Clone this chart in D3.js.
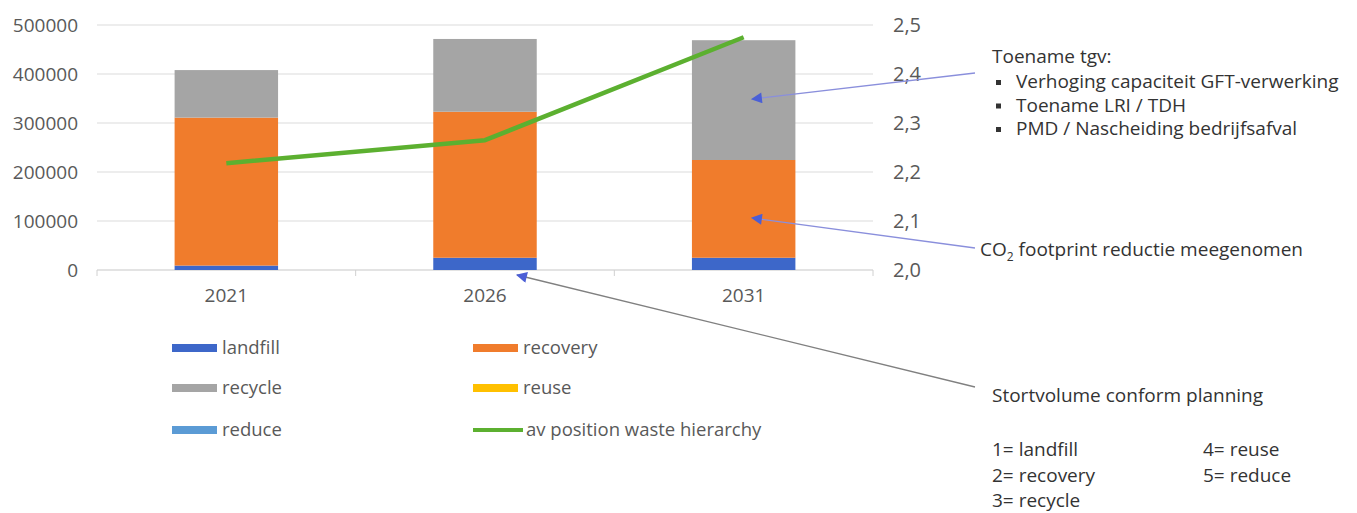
<!DOCTYPE html>
<html>
<head>
<meta charset="utf-8">
<script src="https://cdn.jsdelivr.net/npm/d3@7"></script>
<style>
  body { margin: 0; background: #fff; }
  svg text { font-family: "Open Sans", sans-serif; }
</style>
</head>
<body>
<div id="chart"></div>
<script>
// data
const years = ["2021", "2026", "2031"];
const landfill = [9000, 25000, 25000];
const recovery = [302000, 298000, 199500];
const recycle = [97000, 148500, 244500];
const reuse = [0, 0, 0];
const reduce = [0, 0, 0];
const avPosition = [2.218, 2.265, 2.475];
const leftTicks = [0, 100000, 200000, 300000, 400000, 500000];
const rightTicks = [2.0, 2.1, 2.2, 2.3, 2.4, 2.5];
const seriesNames = ["landfill", "recovery", "recycle", "reuse", "reduce"];
const legendLabels = ["landfill", "recovery", "recycle", "reuse", "reduce", "av position waste hierarchy"];
const noteTop = "Toename tgv:";
const noteBullets = ["Verhoging capaciteit GFT-verwerking", "Toename LRI / TDH", "PMD / Nascheiding bedrijfsafval"];
const noteStort = "Stortvolume conform planning";
const codesLeft = ["1= landfill", "2= recovery", "3= recycle"];
const codesRight = ["4= reuse", "5= reduce"];

const colors = {
  landfill: "#3d67c9",
  recovery: "#f07c2c",
  recycle: "#a5a5a5",
  reuse: "#ffc000",
  reduce: "#5b9bd5",
  line: "#5cb030"
};

const W = 1357, H = 513;
const margin = { left: 97, right: 484, top: 25, bottom: 243 };

const svg = d3.select("#chart").append("svg")
  .attr("width", W).attr("height", H);

const x = d3.scaleBand()
  .domain(years)
  .range([margin.left, W - margin.right])
  .paddingInner(0.6)
  .paddingOuter(0.3);

const y = d3.scaleLinear()
  .domain([0, 500000])
  .range([H - margin.bottom, margin.top]);

const y2 = d3.scaleLinear()
  .domain([2.0, 2.5])
  .range([H - margin.bottom, margin.top]);

// gridlines
svg.append("g")
  .selectAll("line")
  .data(leftTicks)
  .join("line")
  .attr("x1", margin.left)
  .attr("x2", W - margin.right)
  .attr("y1", d => y(d))
  .attr("y2", d => y(d))
  .attr("stroke", d => d === 0 ? "#c8c8c8" : "#dcdcdc")
  .attr("stroke-width", 1.2);

// category separator ticks
const step = x.step();
svg.append("g")
  .selectAll("line")
  .data(d3.range(years.length + 1))
  .join("line")
  .attr("x1", i => margin.left + i * step)
  .attr("x2", i => margin.left + i * step)
  .attr("y1", y(0))
  .attr("y2", y(0) + 6)
  .attr("stroke", "#d0d0d0");

// left axis
const yAxis = d3.axisLeft(y)
  .tickValues(leftTicks)
  .tickSize(0)
  .tickPadding(19)
  .tickFormat(d => d);
svg.append("g")
  .attr("transform", `translate(${margin.left},0)`)
  .call(yAxis)
  .call(g => g.select(".domain").remove())
  .selectAll("text")
  .attr("font-size", 19)
  .attr("fill", "#595959");

// right axis
const yAxis2 = d3.axisRight(y2)
  .tickValues(rightTicks)
  .tickSize(0)
  .tickPadding(20)
  .tickFormat(d => d3.format(".1f")(d).replace(".", ","));
svg.append("g")
  .attr("transform", `translate(${W - margin.right},0)`)
  .call(yAxis2)
  .call(g => g.select(".domain").remove())
  .selectAll("text")
  .attr("font-size", 20)
  .attr("fill", "#595959");

// x axis labels
const xAxis = d3.axisBottom(x).tickSize(0).tickPadding(19);
svg.append("g")
  .attr("transform", `translate(0,${y(0)})`)
  .call(xAxis)
  .call(g => g.select(".domain").remove())
  .selectAll("text")
  .attr("font-size", 19)
  .attr("fill", "#595959");

// stacked bars
const table = years.map((yr, i) => ({
  year: yr,
  landfill: landfill[i],
  recovery: recovery[i],
  recycle: recycle[i],
  reuse: reuse[i],
  reduce: reduce[i]
}));
const stacked = d3.stack().keys(seriesNames)(table);

svg.append("g")
  .selectAll("g")
  .data(stacked)
  .join("g")
  .attr("fill", d => colors[d.key])
  .selectAll("rect")
  .data(d => d)
  .join("rect")
  .attr("x", d => x(d.data.year))
  .attr("width", x.bandwidth())
  .attr("y", d => y(d[1]))
  .attr("height", d => y(d[0]) - y(d[1]));

// av position line
const line = d3.line()
  .x((d, i) => x(years[i]) + x.bandwidth() / 2)
  .y(d => y2(d));
svg.append("path")
  .datum(avPosition)
  .attr("d", line)
  .attr("fill", "none")
  .attr("stroke", colors.line)
  .attr("stroke-width", 4.5)
  .attr("stroke-linejoin", "round");

// legend
const legendRows = [348, 388, 430];
const legendCols = [172, 473];
const legend = svg.append("g");
legendLabels.forEach((lab, i) => {
  const col = i % 2, row = Math.floor(i / 2);
  const lx = legendCols[col], ly = legendRows[row];
  const key = i < seriesNames.length ? seriesNames[i] : "line";
  if (key === "line") {
    legend.append("line")
      .attr("x1", lx).attr("x2", lx + 50)
      .attr("y1", ly).attr("y2", ly)
      .attr("stroke", colors.line).attr("stroke-width", 4);
  } else {
    legend.append("rect")
      .attr("x", lx).attr("y", ly - 4)
      .attr("width", 45).attr("height", 8)
      .attr("fill", colors[key]);
  }
  legend.append("text")
    .attr("x", lx + (key === "line" ? 53 : 50))
    .attr("y", ly)
    .attr("dy", "0.35em")
    .attr("font-size", 18.5)
    .attr("fill", "#595959")
    .text(lab);
});

// annotations
const defs = svg.append("defs");
defs.append("marker")
  .attr("id", "arrow")
  .attr("viewBox", "0 0 10 10")
  .attr("refX", 9).attr("refY", 5)
  .attr("markerWidth", 14).attr("markerHeight", 11)
  .attr("markerUnits", "userSpaceOnUse")
  .attr("orient", "auto")
  .append("path")
  .attr("d", "M0,0 L10,5 L0,10 Z")
  .attr("fill", "#4b5fd6");

const arrows = [
  { x1: 975, y1: 73, x2: 752, y2: 99, stroke: "#8a8fdc" },
  { x1: 975, y1: 248, x2: 752, y2: 218, stroke: "#8a8fdc" },
  { x1: 975, y1: 387, x2: 517, y2: 275, stroke: "#808080" }
];
svg.append("g")
  .selectAll("line")
  .data(arrows)
  .join("line")
  .attr("x1", d => d.x1).attr("y1", d => d.y1)
  .attr("x2", d => d.x2).attr("y2", d => d.y2)
  .attr("stroke", d => d.stroke)
  .attr("stroke-width", 1.3)
  .attr("marker-end", "url(#arrow)");

const notes = svg.append("g")
  .attr("font-size", 19)
  .attr("fill", "#333");

notes.append("text")
  .attr("x", 992).attr("y", 63)
  .text(noteTop);

noteBullets.forEach((t, i) => {
  const by = 88 + i * 23.5;
  notes.append("rect")
    .attr("x", 996).attr("y", by - 8)
    .attr("width", 5).attr("height", 5)
    .attr("fill", "#333");
  notes.append("text")
    .attr("x", 1016).attr("y", by)
    .text(t);
});

const co2 = notes.append("text")
  .attr("x", 980).attr("y", 256);
co2.append("tspan").text("CO");
co2.append("tspan").attr("font-size", 12).attr("dy", 5).text("2");
co2.append("tspan").attr("dy", -5).text(" footprint reductie meegenomen");

notes.append("text")
  .attr("x", 992).attr("y", 402)
  .text(noteStort);

codesLeft.forEach((t, i) => {
  notes.append("text")
    .attr("x", 992).attr("y", 456 + i * 25.5)
    .text(t);
});
codesRight.forEach((t, i) => {
  notes.append("text")
    .attr("x", 1203).attr("y", 456 + i * 25.5)
    .text(t);
});
</script>
</body>
</html>
